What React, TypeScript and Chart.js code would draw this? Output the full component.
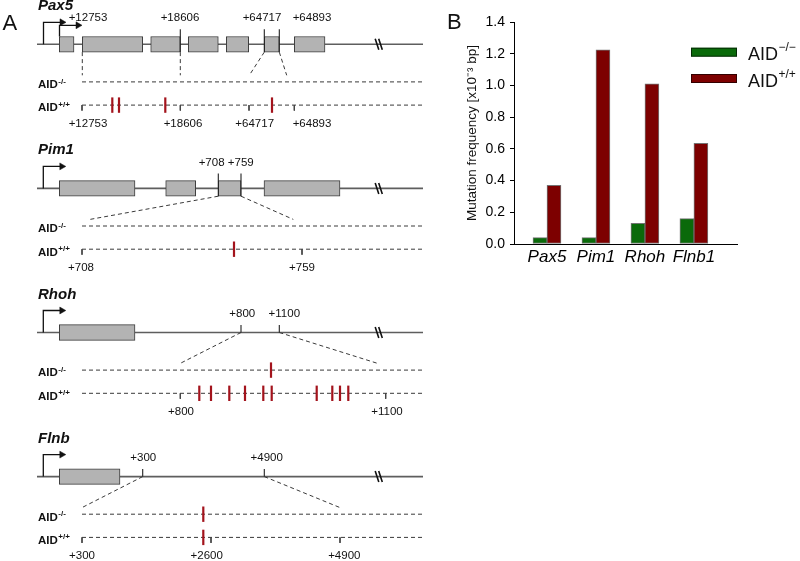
import React, { useEffect, useRef } from 'react';
import { Chart, registerables } from 'chart.js';

Chart.register(...registerables);

const FONT = '"Liberation Sans", Arial, Helvetica, sans-serif';

// ================= Panel B data =================
const categories = ['Pax5', 'Pim1', 'Rhoh', 'Flnb1'];
const seriesLabels = ['AID', 'AID'];
const seriesSups = ['\u2212/\u2212', '+/+'];
const aidKnockout = [0.04, 0.04, 0.13, 0.16];
const aidWildtype = [0.37, 1.225, 1.01, 0.635];
const yTickValues = [0, 0.2, 0.4, 0.6, 0.8, 1.0, 1.2, 1.4];
const yAxisTitle = 'Mutation frequency [x10\u207B\u00B3 bp]';

// ================= Panel A data (schematic units) =================
const genes = ['Pax5', 'Pim1', 'Rhoh', 'Flnb'];

const pax5Exons = [[59.3, 74], [82.3, 142.7], [150.7, 180.3], [188.3, 218.3], [226.3, 248.7], [264.3, 279.3], [294.3, 325]];
const pim1Exons = [[59.3, 135], [165.7, 195.7], [218.3, 241], [264, 340]];
const rhohExons = [[59.3, 135]];
const flnbExons = [[59.3, 120]];

const pax5Promoters = [43.5, 59.5];
const pim1Promoters = [43.3];
const rhohPromoters = [43.3];
const flnbPromoters = [43.3];

const pax5RegionTicks = [180.3, 264.3, 279.3];
const pim1RegionTicks = [218.3, 241];
const rhohRegionTicks = [241, 279.3];
const flnbRegionTicks = [142.7, 264.3];

const pax5TopLabels = ['+12753', '+18606', '+64717', '+64893'];
const pax5TopLabelPos = [88, 180, 262, 312];
const pim1TopLabels = ['+708', '+759'];
const pim1TopLabelPos = [211.6, 240.8];
const rhohTopLabels = ['+800', '+1100'];
const rhohTopLabelPos = [242.3, 284.3];
const flnbTopLabels = ['+300', '+4900'];
const flnbTopLabelPos = [143.3, 266.7];

const pax5ConnFrom = [82.3, 180.3, 264.3, 279.3];
const pax5ConnTo = [82.3, 180.3, 249.3, 286.7];
const pim1ConnFrom = [218.3, 241];
const pim1ConnTo = [90, 293.3];
const rhohConnFrom = [241, 279.3];
const rhohConnTo = [180, 378];
const flnbConnFrom = [142.7, 264.3];
const flnbConnTo = [82, 340];

const pax5ZoomTicks = [82, 180.3, 249, 294.3];
const pax5ZoomLabels = ['+12753', '+18606', '+64717', '+64893'];
const pax5ZoomLabelPos = [88, 183, 254.7, 312];
const pim1ZoomTicks = [82, 302];
const pim1ZoomLabels = ['+708', '+759'];
const pim1ZoomLabelPos = [81, 302];
const rhohZoomTicks = [180.3, 385.7];
const rhohZoomLabels = ['+800', '+1100'];
const rhohZoomLabelPos = [181, 387];
const flnbZoomTicks = [82, 211, 340];
const flnbZoomLabels = ['+300', '+2600', '+4900'];
const flnbZoomLabelPos = [82, 206.7, 344.3];

const pax5MutKO: number[] = [];
const pax5MutWT = [112.3, 119, 165.3, 272];
const pim1MutKO: number[] = [];
const pim1MutWT = [234];
const rhohMutKO = [271];
const rhohMutWT = [199.3, 211, 229.3, 245, 263.3, 271.7, 316.7, 332.3, 340, 348.3];
const flnbMutKO = [203.3];
const flnbMutWT = [203.3];

const exonsByGene = [pax5Exons, pim1Exons, rhohExons, flnbExons];
const promotersByGene = [pax5Promoters, pim1Promoters, rhohPromoters, flnbPromoters];
const regionTicksByGene = [pax5RegionTicks, pim1RegionTicks, rhohRegionTicks, flnbRegionTicks];
const topLabelsByGene = [pax5TopLabels, pim1TopLabels, rhohTopLabels, flnbTopLabels];
const topLabelPosByGene = [pax5TopLabelPos, pim1TopLabelPos, rhohTopLabelPos, flnbTopLabelPos];
const connFromByGene = [pax5ConnFrom, pim1ConnFrom, rhohConnFrom, flnbConnFrom];
const connToByGene = [pax5ConnTo, pim1ConnTo, rhohConnTo, flnbConnTo];
const zoomTicksByGene = [pax5ZoomTicks, pim1ZoomTicks, rhohZoomTicks, flnbZoomTicks];
const zoomLabelsByGene = [pax5ZoomLabels, pim1ZoomLabels, rhohZoomLabels, flnbZoomLabels];
const zoomLabelPosByGene = [pax5ZoomLabelPos, pim1ZoomLabelPos, rhohZoomLabelPos, flnbZoomLabelPos];
const mutKOByGene = [pax5MutKO, pim1MutKO, rhohMutKO, flnbMutKO];
const mutWTByGene = [pax5MutWT, pim1MutWT, rhohMutWT, flnbMutWT];

// ================= layout constants (panel A) =================
const GENE_START = 37;
const GENE_END = 423;
const ZOOM_START = 82;
const ZOOM_END = 423;
const EXON_HALF = 7.8;
const KO_OFF = 37.6;
const WT_OFF = 60.8;
const ARROW_RISE = 22;
const ARROW_LEN = 17;
const BREAKS = [377, 380.5];
const GAP = { x: NaN, y: NaN };

const geneY = (i: number) => 44.3 + i * 144.1;
const inExon = (i: number, x: number) => exonsByGene[i].some(([s, e]) => x >= s - 0.6 && x <= e + 0.6);
const geneRise = (i: number) => (regionTicksByGene[i].some((t) => inExon(i, t)) ? 15 : 7.5);

function drawSup(ctx: CanvasRenderingContext2D, base: string, sup: string, x: number, y: number, baseFont: string, supFont: string, raise: number) {
  ctx.textAlign = 'left';
  ctx.textBaseline = 'alphabetic';
  ctx.font = baseFont;
  ctx.fillText(base, x, y);
  const w = ctx.measureText(base).width;
  ctx.font = supFont;
  ctx.fillText(sup, x + w + 0.5, y - raise);
}

function buildPanelA(): any {
  const backbone: any[] = [];
  const arrows: any[] = [];
  const heads: any[] = [];
  const regionTicks: any[] = [];
  const connectors: any[] = [];
  const zoomLines: any[] = [];
  const zoomTicks: any[] = [];
  const breaks: any[] = [];
  const exonBars: any[] = [];
  const mutations: any[] = [];

  genes.forEach((_, i) => {
    const gy = geneY(i);
    backbone.push({ x: GENE_START, y: gy }, { x: GENE_END, y: gy }, GAP);
    exonsByGene[i].forEach(([s, e]) => exonBars.push({ y: gy, x: [s, e] }));
    promotersByGene[i].forEach((p, k) => {
      const base = inExon(i, p) ? gy - EXON_HALF : gy;
      const top = gy - (ARROW_RISE - 3 * k);
      arrows.push({ x: p, y: base }, { x: p, y: top }, { x: p + ARROW_LEN, y: top }, GAP);
      heads.push({ x: p + ARROW_LEN + 1.5, y: top });
    });
    const rise = geneRise(i);
    regionTicksByGene[i].forEach((t) => {
      const onEx = inExon(i, t);
      regionTicks.push({ x: t, y: onEx ? gy + EXON_HALF : gy }, { x: t, y: gy - rise }, GAP);
    });
    connFromByGene[i].forEach((f, k) => {
      const start = inExon(i, f) ? gy + EXON_HALF : gy;
      connectors.push({ x: f, y: start }, { x: connToByGene[i][k], y: gy + 31 }, GAP);
    });
    zoomLines.push({ x: ZOOM_START, y: gy + KO_OFF }, { x: ZOOM_END, y: gy + KO_OFF }, GAP);
    zoomLines.push({ x: ZOOM_START, y: gy + WT_OFF }, { x: ZOOM_END, y: gy + WT_OFF }, GAP);
    zoomTicksByGene[i].forEach((t) => zoomTicks.push({ x: t, y: gy + WT_OFF }, { x: t, y: gy + WT_OFF + 5.5 }, GAP));
    BREAKS.forEach((c) => breaks.push({ x: c - 1.8, y: gy - 5.5 }, { x: c + 1.8, y: gy + 5.5 }, GAP));
    mutKOByGene[i].forEach((m) => mutations.push({ x: m, y: gy + KO_OFF }));
    mutWTByGene[i].forEach((m) => mutations.push({ x: m, y: gy + WT_OFF }));
  });

  const lineDs = (data: any[], color: string, width: number, order: number, dash: number[] = []) => ({
    type: 'line',
    data,
    borderColor: color,
    borderWidth: width,
    borderDash: dash,
    pointRadius: 0,
    pointHoverRadius: 0,
    tension: 0,
    spanGaps: false,
    fill: false,
    clip: false,
    order,
  });

  const textPlugin = {
    id: 'panelAText',
    afterDatasetsDraw(chart: any) {
      const { ctx, scales } = chart;
      const px = (v: number) => scales.x.getPixelForValue(v);
      const py = (v: number) => scales.y.getPixelForValue(v);
      ctx.save();
      ctx.fillStyle = '#111';
      ctx.textAlign = 'left';
      ctx.textBaseline = 'alphabetic';
      ctx.font = `22px ${FONT}`;
      ctx.fillText('A', px(2.5), py(29.5));
      genes.forEach((g, i) => {
        const gy = geneY(i);
        ctx.textAlign = 'left';
        ctx.textBaseline = 'alphabetic';
        ctx.font = `italic bold 15px ${FONT}`;
        ctx.fillText(g, px(38), py(gy - 34));
        drawSup(ctx, 'AID', '-/-', px(38), py(gy + KO_OFF + 6.3), `bold 11.5px ${FONT}`, `bold 8px ${FONT}`, 4.5);
        drawSup(ctx, 'AID', '+/+', px(38), py(gy + WT_OFF + 6.3), `bold 11.5px ${FONT}`, `bold 8px ${FONT}`, 4.5);
        ctx.font = `11.5px ${FONT}`;
        ctx.textAlign = 'center';
        ctx.textBaseline = 'middle';
        const rise = geneRise(i);
        topLabelsByGene[i].forEach((t, k) => ctx.fillText(t, px(topLabelPosByGene[i][k]), py(gy - rise - 11)));
        zoomLabelsByGene[i].forEach((t, k) => ctx.fillText(t, px(zoomLabelPosByGene[i][k]), py(gy + 79.5)));
      });
      ctx.restore();
    },
  };

  return {
    type: 'scatter',
    data: {
      datasets: [
        {
          type: 'scatter',
          data: mutations,
          pointStyle: 'line',
          pointRotation: 90,
          pointRadius: 7.7,
          pointHoverRadius: 7.7,
          pointBorderWidth: 2.2,
          pointBorderColor: '#a3131c',
          pointBackgroundColor: '#a3131c',
          clip: false,
          order: 1,
        },
        {
          type: 'scatter',
          data: heads,
          pointStyle: 'triangle',
          pointRotation: 90,
          pointRadius: 4,
          pointHoverRadius: 4,
          pointBorderWidth: 0.5,
          pointBorderColor: '#111',
          pointBackgroundColor: '#111',
          clip: false,
          order: 2,
        },
        lineDs(arrows, '#111', 1.3, 3),
        lineDs(regionTicks, '#222', 1.1, 4),
        lineDs(zoomTicks, '#444', 1, 5),
        lineDs(zoomLines, '#3a3a3a', 1, 6, [4, 3]),
        lineDs(connectors, '#3a3a3a', 1, 7, [4, 3]),
        lineDs(breaks, '#111', 1.6, 8),
        {
          type: 'bar',
          indexAxis: 'y',
          data: exonBars,
          barThickness: EXON_HALF * 2,
          backgroundColor: '#b3b3b3',
          borderColor: '#3c3c3c',
          borderWidth: 1,
          borderSkipped: false,
          clip: false,
          order: 9,
        },
        lineDs(backbone, '#5e5e5e', 1.6, 10),
      ],
    },
    options: {
      responsive: false,
      animation: false,
      events: [],
      layout: { padding: 0, autoPadding: false },
      plugins: { legend: { display: false }, tooltip: { enabled: false } },
      scales: {
        x: { type: 'linear', min: 0, max: 430, display: false, offset: false, grid: { offset: false } },
        y: { type: 'linear', min: 0, max: 561, reverse: true, display: false, offset: false, grid: { offset: false } },
      },
    },
    plugins: [textPlugin],
  };
}

function buildPanelB(): any {
  const colors = ['#0a6a0a', '#7d0000'];
  const legendPlugin = {
    id: 'panelBLegend',
    afterDraw(chart: any) {
      const { ctx, chartArea } = chart;
      ctx.save();
      ctx.fillStyle = '#111';
      ctx.textAlign = 'left';
      ctx.textBaseline = 'alphabetic';
      ctx.font = `22px ${FONT}`;
      ctx.fillText('B', 17, 29);
      chart.data.datasets.forEach((ds: any, i: number) => {
        const bx = chartArea.right - 46;
        const by = chartArea.top + 25.7 + i * 26.3;
        ctx.fillStyle = ds.backgroundColor;
        ctx.fillRect(bx, by, 46, 9);
        ctx.strokeStyle = 'rgba(0,0,0,0.6)';
        ctx.lineWidth = 1;
        ctx.strokeRect(bx + 0.5, by + 0.5, 45, 8);
        ctx.fillStyle = '#111';
        drawSup(ctx, ds.label, seriesSups[i], bx + 57, by + 12.5, `18px ${FONT}`, `12px ${FONT}`, 9);
      });
      ctx.restore();
    },
  };

  return {
    type: 'bar',
    data: {
      datasets: [aidKnockout, aidWildtype].map((vals, s) => ({
        label: seriesLabels[s],
        data: categories.map((_, i) => ({ x: i + 1, y: vals[i] })),
        backgroundColor: colors[s],
        borderColor: 'rgba(0,0,0,0.55)',
        borderWidth: 1,
        borderSkipped: false,
        barThickness: 14,
      })),
    },
    options: {
      responsive: false,
      animation: false,
      events: [],
      layout: { padding: { top: 22, right: 63, bottom: 0, left: 0 }, autoPadding: false },
      plugins: { legend: { display: false }, tooltip: { enabled: false } },
      scales: {
        x: {
          type: 'linear',
          min: 0.3265,
          max: 4.88,
          offset: false,
          grid: { display: false, drawTicks: false, offset: false },
          border: { display: true, color: '#000', width: 1 },
          afterBuildTicks: (s: any) => {
            s.ticks = categories.map((_, i) => ({ value: i + 1 }));
          },
          afterFit: (s: any) => {
            s.height = 46;
          },
          ticks: {
            autoSkip: false,
            maxRotation: 0,
            padding: 3,
            color: '#000',
            font: { family: FONT, size: 17, style: 'italic' },
            callback: (v: any) => categories[Math.round(Number(v)) - 1] ?? '',
          },
        },
        y: {
          type: 'linear',
          min: 0,
          max: 1.4,
          afterBuildTicks: (s: any) => {
            s.ticks = yTickValues.map((v) => ({ value: v }));
          },
          afterFit: (s: any) => {
            s.width = 84;
          },
          grid: { display: true, drawOnChartArea: false, drawTicks: true, tickLength: 4, color: '#000', lineWidth: 1 },
          border: { display: true, color: '#000', width: 1 },
          ticks: {
            padding: 5,
            color: '#000',
            font: { family: FONT, size: 14 },
            callback: (v: any) => Number(v).toFixed(1),
          },
          title: {
            display: true,
            text: yAxisTitle,
            color: '#111',
            font: { family: FONT, size: 13.5 },
            padding: { top: 34, bottom: 0 },
          },
        },
      },
    },
    plugins: [legendPlugin],
  };
}

export default function App() {
  const aRef = useRef<HTMLCanvasElement>(null);
  const bRef = useRef<HTMLCanvasElement>(null);
  useEffect(() => {
    const a = new Chart(aRef.current as HTMLCanvasElement, buildPanelA());
    const b = new Chart(bRef.current as HTMLCanvasElement, buildPanelB());
    return () => {
      a.destroy();
      b.destroy();
    };
  }, []);
  return (
    <div style={{ position: 'fixed', left: 0, top: 0, width: 800, height: 561, background: '#fff', overflow: 'hidden' }}>
      <canvas ref={aRef} width={430} height={561} style={{ position: 'absolute', left: 0, top: 0 }} />
      <canvas ref={bRef} width={370} height={290} style={{ position: 'absolute', left: 430, top: 0 }} />
    </div>
  );
}
